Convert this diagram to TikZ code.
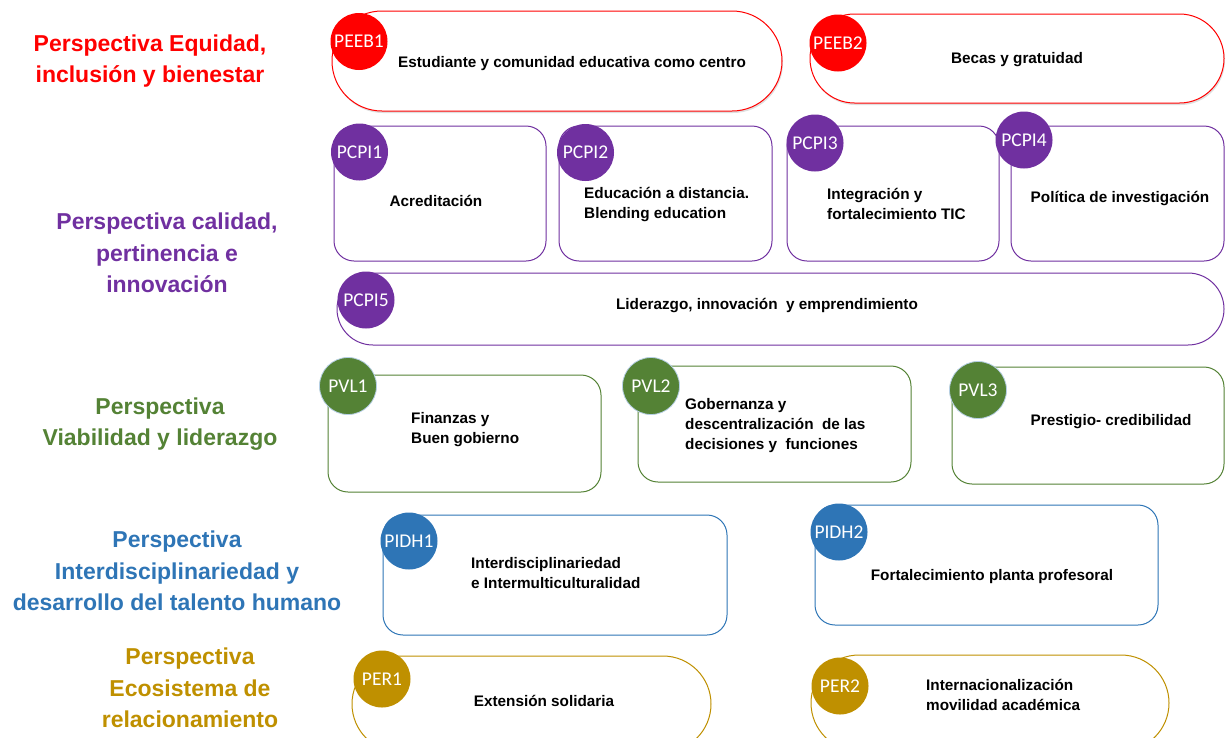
\documentclass[tikz,border=0pt]{standalone}
\usepackage{fontspec}
\setmainfont{Liberation Sans}
\newfontfamily\lblfont{Carlito}
\usetikzlibrary{shadows}
\definecolor{cRed}{HTML}{FF0000}
\definecolor{cPurple}{HTML}{7030A0}
\definecolor{cGreen}{HTML}{548235}
\definecolor{cBlue}{HTML}{2E75B6}
\definecolor{cGold}{HTML}{BF9000}
\tikzset{
  x=1pt, y=-1pt,
  box/.style={draw=#1, line width=1pt, fill=white, rectangle, inner sep=0pt},
  badge/.style={circle, fill=#1, minimum size=57pt, inner sep=0pt,
    text=white, font=\lblfont\fontsize{19.5}{19.5}\selectfont},
  body/.style={font=\bfseries\fontsize{15.3}{20}\selectfont, align=left, inner sep=0pt},
  bodyc/.style={font=\bfseries\fontsize{15.3}{20}\selectfont, align=center, inner sep=0pt},
  title/.style={text=#1, font=\bfseries\fontsize{23}{31.5}\selectfont, align=center, inner sep=0pt},
}
\begin{document}
\begin{tikzpicture}
\useasboundingbox (0,0) rectangle (1225,737);
\clip (0,0) rectangle (1225,737);

% Perspective headings
\node[title=cRed] (tEEB) at (150,61) {Perspectiva Equidad,\\inclusión y bienestar};
\node[title=cPurple] (tCPI) at (167,253) {Perspectiva calidad,\\pertinencia e\\innovación};
\node[title=cGreen] (tVL) at (160,424) {Perspectiva\\Viabilidad y liderazgo};
\node[title=cBlue] (tIDH) at (177,571) {Perspectiva\\Interdisciplinariedad y\\desarrollo del talento humano};
\node[title=cGold] (tER) at (190,688) {Perspectiva\\Ecosistema de\\relacionamiento};

% Equity row
\node[box=cRed, minimum width=450pt, minimum height=100pt, rounded corners=50pt,
  drop shadow={shadow xshift=1pt, shadow yshift=-2pt, opacity=0.25}] (bEEB1) at (557,61) {};
\node[box=cRed, minimum width=414pt, minimum height=89pt, rounded corners=44.5pt,
  drop shadow={shadow xshift=1pt, shadow yshift=-2pt, opacity=0.25}] (bEEB2) at (1017,58.5) {};
\node[badge=cRed] (cEEB1) at (359,41.5) {PEEB1};
\node[badge=cRed] (cEEB2) at (838,43) {PEEB2};
\node[bodyc] (xEEB1) at (572,64) {Estudiante y comunidad educativa como centro};
\node[bodyc] (xEEB2) at (1017,60) {Becas y gratuidad};

% Quality row
\node[box=cPurple, minimum width=212pt, minimum height=135pt, rounded corners=20pt] (bCPI1) at (440,193.5) {};
\node[box=cPurple, minimum width=213pt, minimum height=135pt, rounded corners=20pt] (bCPI2) at (665.5,193.5) {};
\node[box=cPurple, minimum width=212pt, minimum height=135pt, rounded corners=20pt] (bCPI3) at (893,193.5) {};
\node[box=cPurple, minimum width=213pt, minimum height=135pt, rounded corners=20pt] (bCPI4) at (1117.5,193.5) {};
\node[box=cPurple, minimum width=887pt, minimum height=72pt, rounded corners=36pt] (bCPI5) at (780.5,309) {};
\node[badge=cPurple] (cCPI1) at (359.5,152) {PCPI1};
\node[badge=cPurple] (cCPI2) at (585.5,152.5) {PCPI2};
\node[badge=cPurple] (cCPI3) at (815,143) {PCPI3};
\node[badge=cPurple] (cCPI4) at (1024,140) {PCPI4};
\node[badge=cPurple] (cCPI5) at (366,300) {PCPI5};
\node[bodyc] (xCPI1) at (436,201) {Acreditación};
\node[body, anchor=west] (xCPI2) at (584,205) {Educación a distancia.\\Blending education};
\node[body, anchor=west] (xCPI3) at (827,204) {Integración y\\fortalecimiento TIC};
\node[bodyc] (xCPI4) at (1120,199) {Política de investigación};
\node[bodyc] (xCPI5) at (767,306) {Liderazgo, innovación\ \ y emprendimiento};

% Viability row
\node[box=cGreen, minimum width=273pt, minimum height=117pt, rounded corners=20pt] (bVL1) at (464.5,433.5) {};
\node[box=cGreen, minimum width=273pt, minimum height=116pt, rounded corners=20pt] (bVL2) at (774.5,424) {};
\node[box=cGreen, minimum width=272pt, minimum height=117pt, rounded corners=20pt] (bVL3) at (1088,425.5) {};
\node[badge=cGreen, draw=cBlue!35, line width=0.8pt] (cVL1) at (348,386) {PVL1};
\node[badge=cGreen, draw=cBlue!35, line width=0.8pt] (cVL2) at (651,386) {PVL2};
\node[badge=cGreen, draw=cBlue!35, line width=0.8pt] (cVL3) at (978,390) {PVL3};
\node[body, anchor=west] (xVL1) at (411,430) {Finanzas y\\Buen gobierno};
\node[body, anchor=west] (xVL2) at (685,426) {Gobernanza y\\descentralización\ \ de las\\decisiones y\ \ funciones};
\node[bodyc] (xVL3) at (1111,422) {Prestigio- credibilidad};

% Talent row
\node[box=cBlue, minimum width=344pt, minimum height=120pt, rounded corners=20pt] (bIDH1) at (555,575) {};
\node[box=cBlue, minimum width=343pt, minimum height=120pt, rounded corners=20pt] (bIDH2) at (986.5,565) {};
\node[badge=cBlue] (cIDH1) at (409,541) {PIDH1};
\node[badge=cBlue] (cIDH2) at (839,532) {PIDH2};
\node[body, anchor=west] (xIDH1) at (471,573) {Interdisciplinariedad\\e Intermulticulturalidad};
\node[bodyc] (xIDH2) at (992,577) {Fortalecimiento planta profesoral};

% Ecosystem row
\node[box=cGold, minimum width=359pt, minimum height=96pt, rounded corners=48pt] (bER1) at (531.5,704) {};
\node[box=cGold, minimum width=358pt, minimum height=96pt, rounded corners=48pt] (bER2) at (990,703) {};
\node[badge=cGold] (cER1) at (382,679) {PER1};
\node[badge=cGold] (cER2) at (840,686) {PER2};
\node[bodyc] (xER1) at (544,701) {Extensión solidaria};
\node[body, anchor=west] (xER2) at (926,695) {Internacionalización\\movilidad académica};
\end{tikzpicture}
\end{document}
